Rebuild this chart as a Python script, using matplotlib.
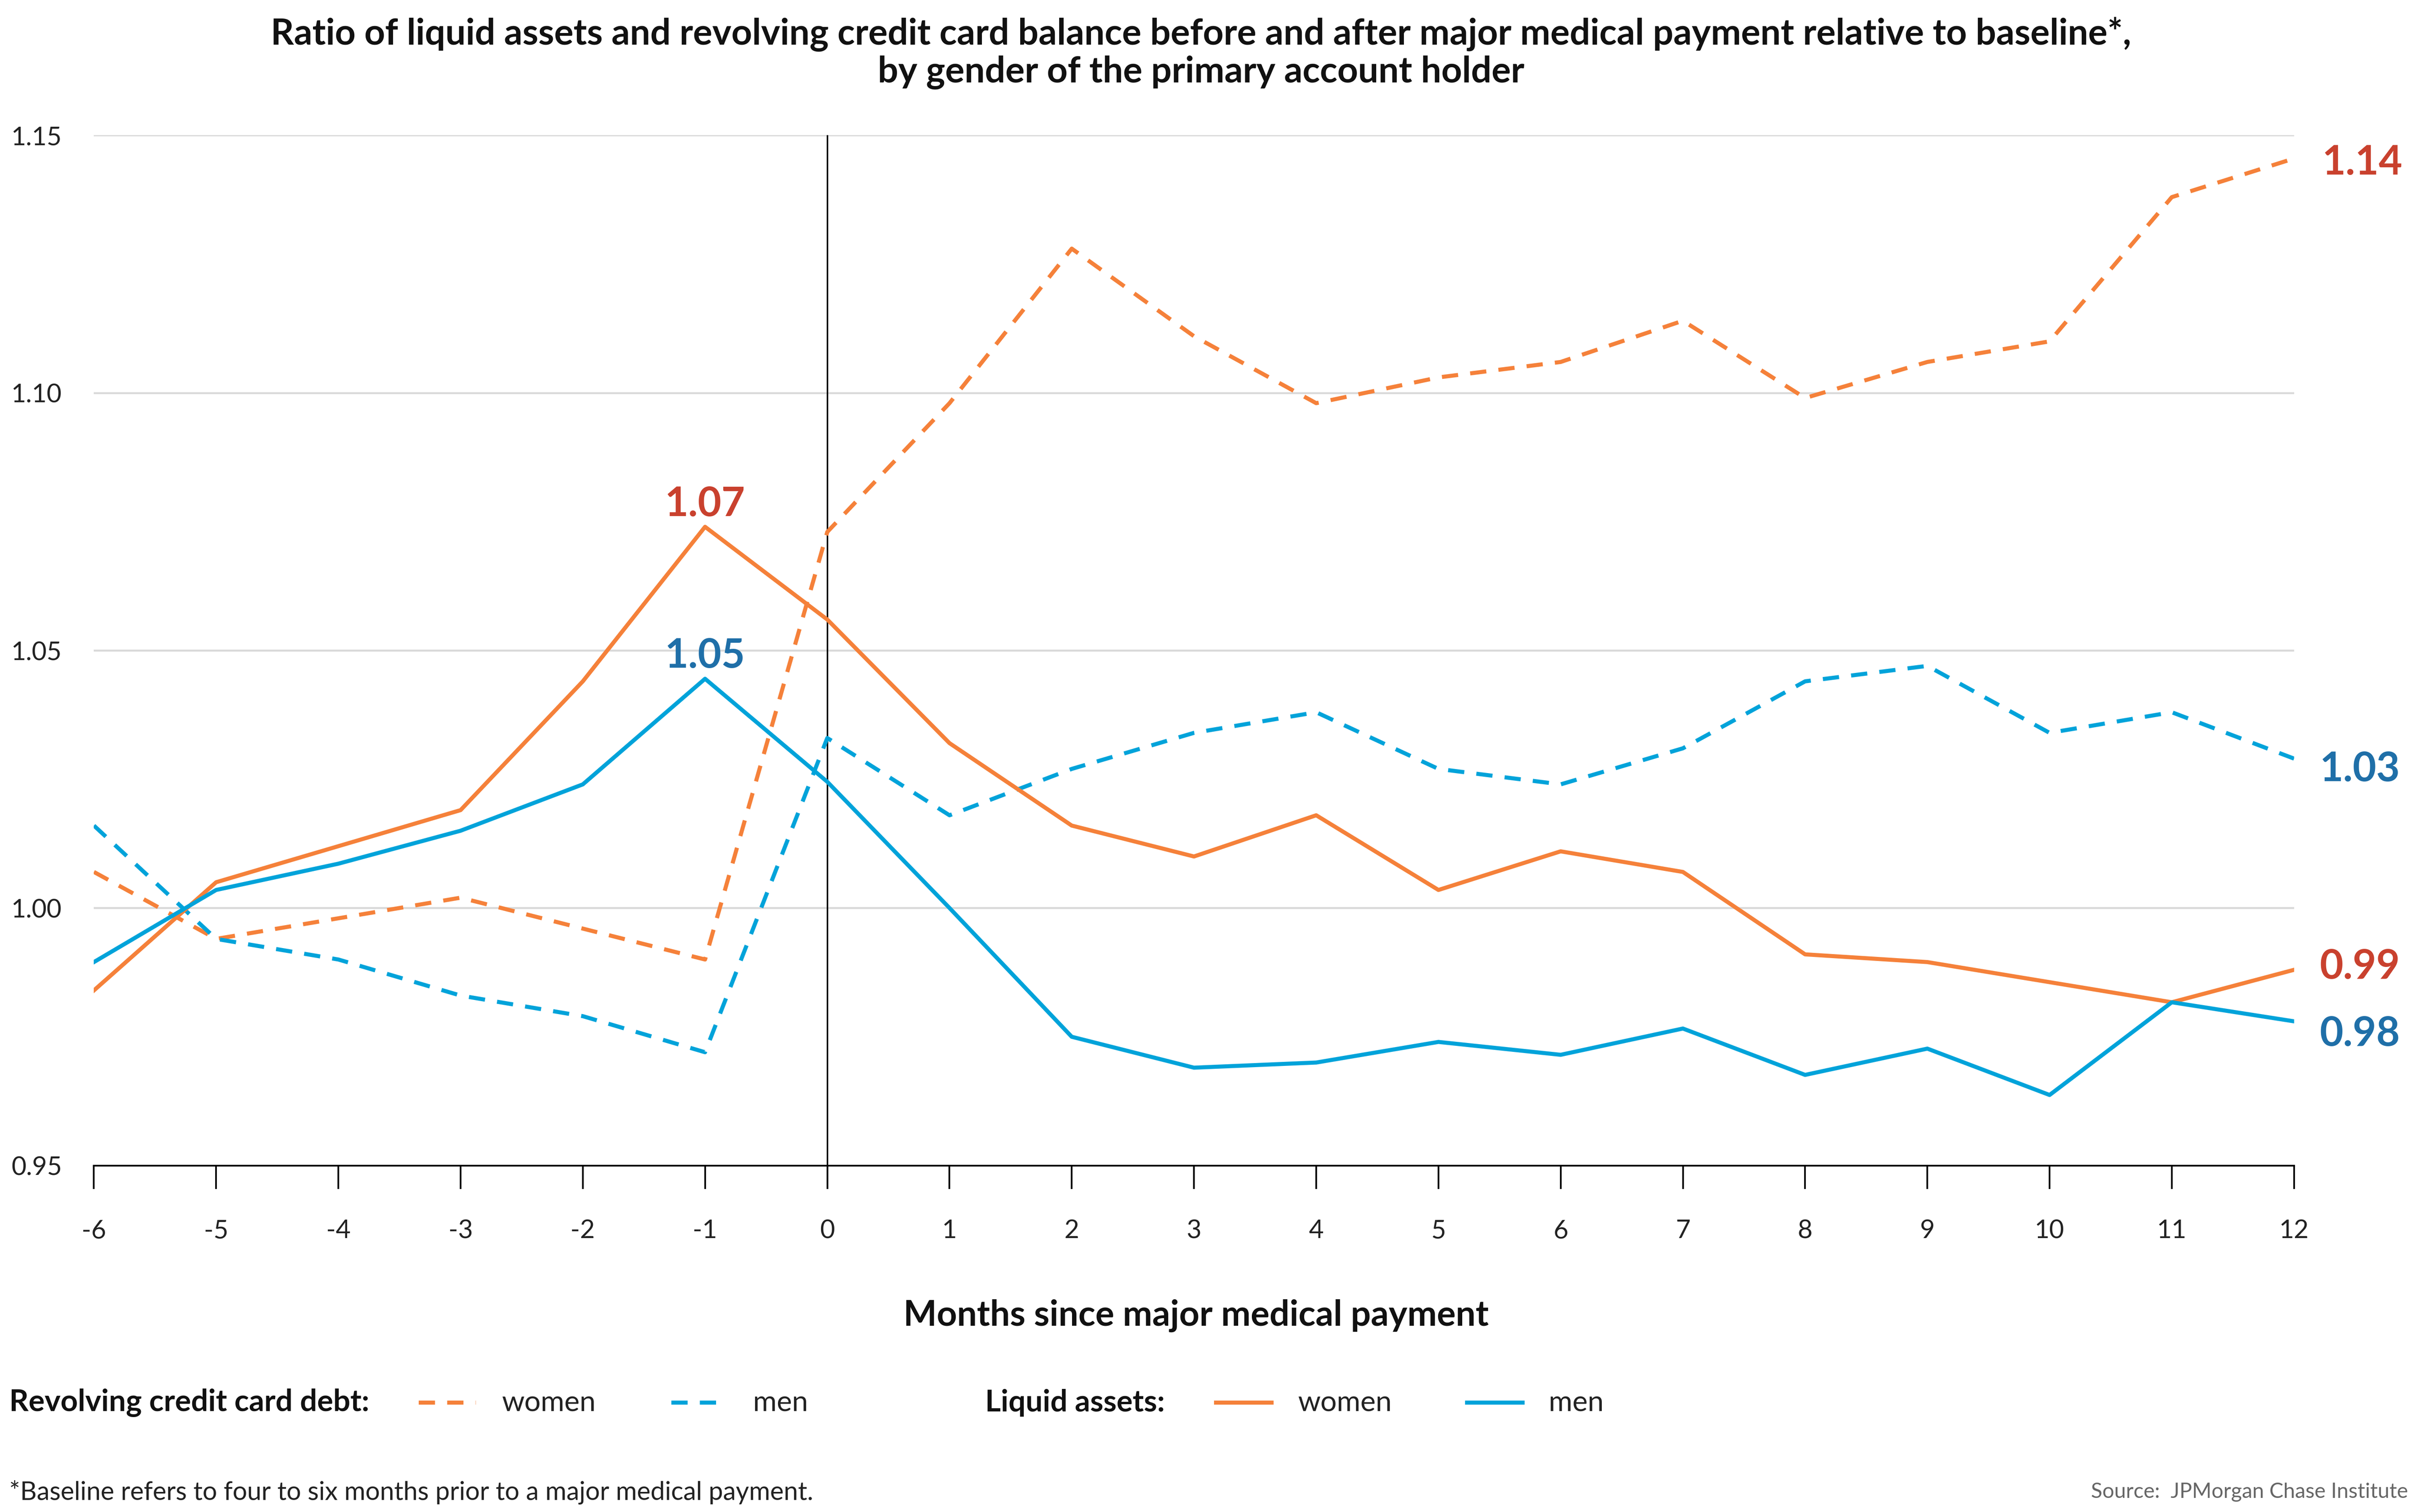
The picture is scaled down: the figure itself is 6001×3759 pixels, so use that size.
import matplotlib
matplotlib.use("Agg")
import matplotlib.pyplot as plt
from matplotlib.lines import Line2D

plt.rcParams['font.family'] = ['Lato', 'DejaVu Sans']

months = list(range(-6, 13))

credit_women = [1.007, 0.994, 0.998, 1.002, 0.996, 0.990, 1.073, 1.098, 1.128, 1.111,
                1.098, 1.103, 1.106, 1.114, 1.099, 1.106, 1.110, 1.138, 1.1455]
credit_men = [1.016, 0.994, 0.990, 0.983, 0.979, 0.972, 1.033, 1.018, 1.027, 1.034,
              1.038, 1.027, 1.024, 1.031, 1.044, 1.047, 1.034, 1.038, 1.029]
liquid_women = [0.984, 1.005, 1.012, 1.019, 1.044, 1.074, 1.056, 1.032, 1.016, 1.010,
                1.018, 1.0035, 1.011, 1.007, 0.991, 0.9895, 0.9856, 0.9817, 0.988]
liquid_men = [0.9895, 1.0035, 1.0086, 1.015, 1.024, 1.0445, 1.0245, 1.000, 0.975, 0.969,
              0.970, 0.974, 0.9715, 0.9766, 0.9676, 0.9727, 0.9637, 0.9817, 0.978]

yticks = [0.95, 1.00, 1.05, 1.10, 1.15]

ORANGE = "#F5813A"
BLUE = "#00A3DA"
RED_LBL = "#C9412E"
BLUE_LBL = "#1F6FA8"

fig = plt.figure(figsize=(15.68, 9.823), dpi=382.72)
ax = fig.add_axes([0.0389, 0.2291, 0.9114, 0.6813])

lw = 1.9
ax.plot(months, credit_women, color=ORANGE, lw=lw, dashes=(4, 3))
ax.plot(months, credit_men, color=BLUE, lw=lw, dashes=(4, 3))
ax.plot(months, liquid_women, color=ORANGE, lw=lw)
ax.plot(months, liquid_men, color=BLUE, lw=lw)

ax.axvline(0, color="black", lw=0.7, zorder=1)

ax.set_xlim(-6, 12)
ax.set_ylim(0.95, 1.15)
ax.set_xticks(months)
ax.set_xticklabels([str(m) for m in months], fontsize=12, color="#222222")
ax.set_yticks(yticks)
ax.set_yticklabels(["%.2f" % v for v in yticks], fontsize=12, color="#222222")
ax.tick_params(axis="x", length=11, width=0.8, pad=14, direction="out")
ax.tick_params(axis="y", length=0, pad=15)
ax.grid(axis="y", color="#D9D9D9", lw=0.9)
ax.set_axisbelow(True)
for s in ["top", "right", "left"]:
    ax.spines[s].set_visible(False)
ax.spines["bottom"].set_linewidth(0.8)

# value labels
ax.annotate("1.07", (-1, liquid_women[5]), xytext=(0, 2), textcoords="offset points",
            ha="center", va="bottom", fontsize=19, fontweight="bold", color=RED_LBL)
ax.annotate("1.05", (-1, liquid_men[5]), xytext=(0, 2), textcoords="offset points",
            ha="center", va="bottom", fontsize=19, fontweight="bold", color=BLUE_LBL)
ax.annotate("1.14", (12, credit_women[-1]), xytext=(13, -2), textcoords="offset points",
            ha="left", va="center", fontsize=19, fontweight="bold", color=RED_LBL,
            annotation_clip=False)
ax.annotate("1.03", (12, credit_men[-1]), xytext=(12, -5), textcoords="offset points",
            ha="left", va="center", fontsize=19, fontweight="bold", color=BLUE_LBL,
            annotation_clip=False)
ax.annotate("0.99", (12, liquid_women[-1]), xytext=(12, 1.5), textcoords="offset points",
            ha="left", va="center", fontsize=19, fontweight="bold", color=RED_LBL,
            annotation_clip=False)
ax.annotate("0.98", (12, liquid_men[-1]), xytext=(12, -6), textcoords="offset points",
            ha="left", va="center", fontsize=19, fontweight="bold", color=BLUE_LBL,
            annotation_clip=False)

# title
fig.text(0.4975, 0.965, "Ratio of liquid assets and revolving credit card balance before and after major medical payment relative to baseline*,\nby gender of the primary account holder",
         ha="center", va="center", fontsize=16.9, fontweight="bold", color="#111111", linespacing=1.15)

# x label
fig.text(0.4955, 0.130, "Months since major medical payment", ha="center", va="center",
         fontsize=16.5, fontweight="bold", color="#111111")

# legend
W, H = 1568.0, 982.0
ly = 1 - 911 / H
fig.text(6 / W, ly, "Revolving credit card debt:", ha="left", va="center", fontsize=14.1,
         fontweight="bold", color="#111111")
fig.text(640 / W, ly, "Liquid assets:", ha="left", va="center", fontsize=14.1,
         fontweight="bold", color="#111111")
items = [(272, 309, 326, ORANGE, True, "women"), (436, 472, 489, BLUE, True, "men"),
         (790, 826, 843, ORANGE, False, "women"), (953, 989, 1006, BLUE, False, "men")]
for x0, x1, xt, c, dashed, name in items:
    ln = Line2D([x0 / W, x1 / W], [ly, ly], transform=fig.transFigure, color=c, lw=lw)
    if dashed:
        ln.set_dashes((4, 3))
    fig.add_artist(ln)
    fig.text(xt / W, ly, name, ha="left", va="center", fontsize=13.5, color="#222222")

# footnote / source
fig.text(6 / W, 1 - 969 / H, "*Baseline refers to four to six months prior to a major medical payment.",
         ha="left", va="center", fontsize=12, color="#222222")
fig.text(1564 / W, 1 - 969 / H, "Source:  JPMorgan Chase Institute", ha="right", va="center",
         fontsize=9.8, color="#666666")

fig.savefig("out.png", dpi=382.72)
